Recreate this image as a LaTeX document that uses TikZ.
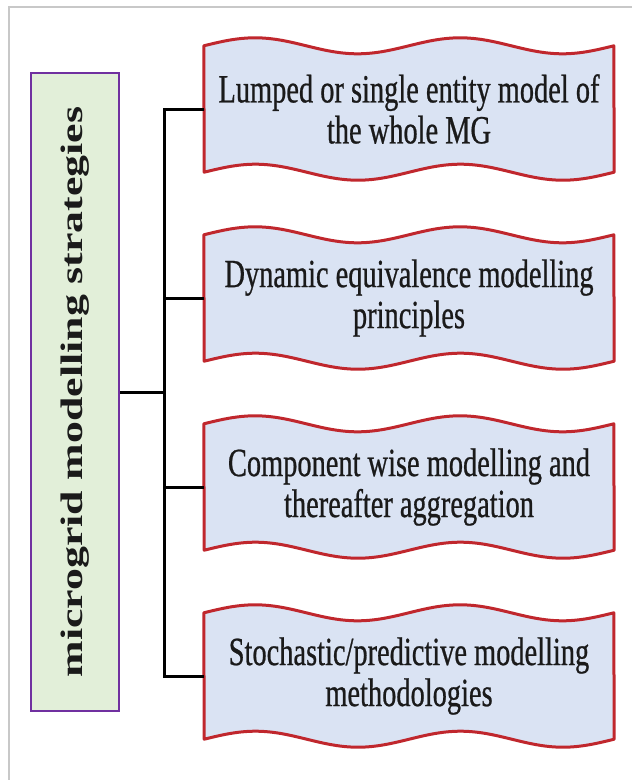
\documentclass[tikz,border=0pt]{standalone}
\usepackage{fontspec}
\usepackage{graphicx}
\setmainfont{Liberation Serif}
\newfontfamily\bannerfont{Liberation Serif}[FakeStretch=0.71, FakeBold=0.6]
\usetikzlibrary{backgrounds}

\definecolor{framegray}{HTML}{C8C8C8}
\definecolor{rootfill}{HTML}{E2EFD9}
\definecolor{rootline}{HTML}{7030A0}
\definecolor{bannerfill}{HTML}{DAE3F3}
\definecolor{bannerline}{HTML}{C0272D}
\definecolor{textcol}{HTML}{1A1A1A}

\tikzstyle{frame}=[draw=framegray, line width=1.5pt]
\tikzstyle{root}=[draw=rootline, fill=rootfill, line width=2.5pt, minimum width=88pt, minimum height=638pt, inner sep=0pt, text=textcol]
\tikzstyle{banner}=[minimum width=410pt, minimum height=126pt, inner sep=0pt, align=center, text=textcol, font=\bannerfont\fontsize{40}{41}\selectfont]
\tikzstyle{wave}=[draw=bannerline, fill=bannerfill, line width=3pt, line join=round]
\tikzstyle{edge}=[draw, line width=3pt, -]

% double wave round a banner node
\newcommand{\wavebox}[1]{%
    \path[wave] (#1.north west)
        sin ++(51.25,-8) cos ++(51.25,8) sin ++(51.25,8) cos ++(51.25,-8)
        sin ++(51.25,-8) cos ++(51.25,8) sin ++(51.25,8) cos ++(51.25,-8)
        -- (#1.south east)
        sin ++(-51.25,8) cos ++(-51.25,-8) sin ++(-51.25,-8) cos ++(-51.25,8)
        sin ++(-51.25,8) cos ++(-51.25,-8) sin ++(-51.25,-8) cos ++(-51.25,8)
        -- cycle;}

\begin{document}
\begin{tikzpicture}[x=1pt, y=-1pt]
    \useasboundingbox (0,0) rectangle (632,780);
    % Outer frame
    \path[frame] (632,7) -- (9,7) -- (9,780);
    % First we draw the strategy box and the banners
    \node[root] (root) at (75,392)
        {\rotatebox{90}{\scalebox{1}[0.71]{\fontsize{43.8}{44}\selectfont\bfseries microgrid modelling strategies}}};
    \foreach \pos/\name/\desc in {{(409,109)/s1/{Lumped or single entity model of\\the whole MG}},
                                  {(409,298)/s2/{Dynamic equivalence modelling\\principles}},
                                  {(409,487)/s3/{Component wise modelling and\\thereafter aggregation}},
                                  {(409,676)/s4/{Stochastic/predictive modelling\\methodologies}}}
        \node[banner] (\name) at \pos {\desc};
    % Waves go behind the text
    \begin{scope}[on background layer]
        \foreach \name in {s1,s2,s3,s4}
            \wavebox{\name};
    \end{scope}
    % Connect the strategy box with each banner
    \path[edge] (root.east) -- ++(44,0) coordinate (bus);
    \foreach \name in {s1,s2,s3,s4}
        \path[edge] (bus) |- (\name.west);
\end{tikzpicture}
\end{document}
